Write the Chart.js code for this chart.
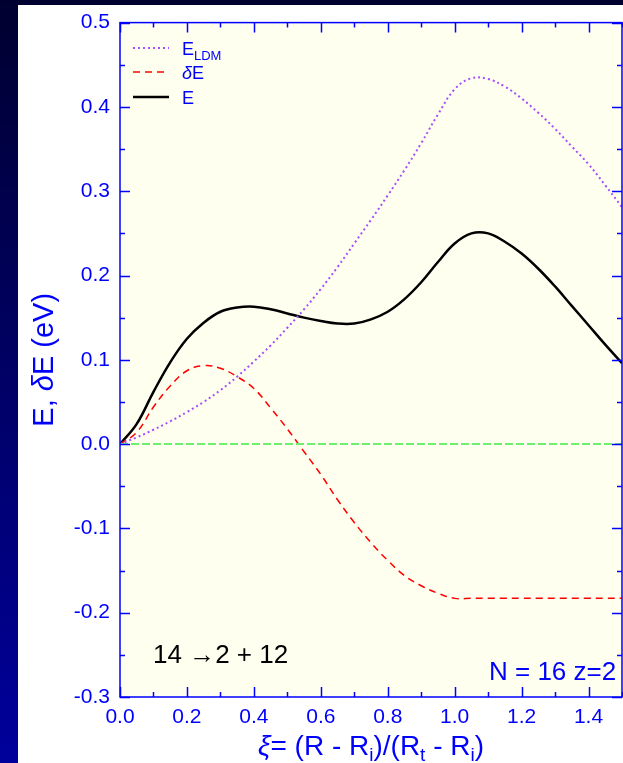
<!DOCTYPE html>
<html lang="en">
<head>
<meta charset="UTF-8">
<title>E, dE vs xi</title>
<style>
html, body { margin: 0; padding: 0; background: #000033; overflow: hidden; }
canvas { display: block; }
</style>
</head>
<body>
<canvas id="chart" width="623" height="763"></canvas>

<script src="https://cdn.jsdelivr.net/npm/chart.js"></script>
<script>
// values
const xi = [0, 0.05, 0.1, 0.15, 0.2, 0.25, 0.3, 0.35, 0.4, 0.45, 0.5, 0.55, 0.6, 0.65, 0.7, 0.75,
            0.8, 0.85, 0.9, 0.95, 1.0, 1.05, 1.1, 1.15, 1.2, 1.25, 1.3, 1.35, 1.4, 1.45, 1.5];
const eLdm = [0, 0.008, 0.017, 0.027, 0.038, 0.050, 0.064, 0.080, 0.098, 0.117, 0.138, 0.160, 0.184, 0.210, 0.238, 0.266,
              0.295, 0.325, 0.357, 0.391, 0.421, 0.434, 0.433, 0.424, 0.410, 0.393, 0.374, 0.353, 0.332, 0.307, 0.281];
const deltaE = [0, 0.014, 0.044, 0.069, 0.087, 0.093, 0.090, 0.080, 0.066, 0.043, 0.018, -0.009, -0.036, -0.066, -0.093, -0.117,
                -0.138, -0.156, -0.168, -0.177, -0.183, -0.183, -0.183, -0.183, -0.183, -0.183, -0.183, -0.183, -0.183, -0.183, -0.183];
const eTotal = [0, 0.024, 0.062, 0.097, 0.125, 0.144, 0.157, 0.162, 0.163, 0.160, 0.155, 0.150, 0.146, 0.143, 0.143, 0.148,
                0.157, 0.172, 0.192, 0.216, 0.238, 0.250, 0.250, 0.240, 0.226, 0.208, 0.187, 0.164, 0.141, 0.118, 0.096];
const zeroX = [0, 1.5];
const zeroY = [0, 0];

const xTicks = [0, 0.2, 0.4, 0.6, 0.8, 1.0, 1.2, 1.4];
const yTicks = [-0.3, -0.2, -0.1, 0.0, 0.1, 0.2, 0.3, 0.4, 0.5];

const BLUE = '#0000ff';
const FONT = '"Liberation Sans", Arial, Helvetica, sans-serif';

function pts(xs, ys) {
    return xs.map((x, i) => ({ x: x, y: ys[i] }));
}

// draws a row of text pieces [text, font, dy]
function drawPieces(ctx, pieces, x, y, align) {
    let total = 0;
    pieces.forEach(p => { ctx.font = p[1]; total += ctx.measureText(p[0]).width; });
    let cx = align === 'center' ? x - total / 2 : x;
    ctx.textAlign = 'left';
    pieces.forEach(p => {
        ctx.font = p[1];
        ctx.fillText(p[0], cx, y + (p[2] || 0));
        cx += ctx.measureText(p[0]).width;
    });
}

function minorsOf(majors, max) {
    const step = majors[1] - majors[0];
    const out = [];
    for (let i = 0; i < majors.length; i++) {
        const m = majors[i] + step / 2;
        if (m <= max + 1e-9) out.push(m);
    }
    return out;
}

const decor = {
    id: 'decor',
    beforeDraw(chart) {
        const { ctx, chartArea: a } = chart;
        ctx.save();
        const g = ctx.createLinearGradient(0, 0, 0, chart.height);
        g.addColorStop(0, '#000030');
        g.addColorStop(1, '#00009c');
        ctx.fillStyle = g;
        ctx.fillRect(0, 0, chart.width, chart.height);
        ctx.fillStyle = '#ffffff';
        ctx.fillRect(18, 5, chart.width - 18, chart.height - 5);
        ctx.fillStyle = '#fffff0';
        ctx.fillRect(a.left, a.top, a.right - a.left, a.bottom - a.top);
        ctx.restore();
    },
    afterDraw(chart) {
        const { ctx, chartArea: a } = chart;
        const xs = chart.scales.x, ys = chart.scales.y;
        ctx.save();
        ctx.strokeStyle = BLUE;
        ctx.lineWidth = 1.5;
        ctx.strokeRect(a.left, a.top, a.right - a.left, a.bottom - a.top);

        ctx.beginPath();
        const tick = (vals, len) => {
            vals.forEach(v => {
                const px = Math.round(xs.getPixelForValue(v)) + 0.5;
                ctx.moveTo(px, a.bottom); ctx.lineTo(px, a.bottom - len);
                ctx.moveTo(px, a.top); ctx.lineTo(px, a.top + len);
            });
        };
        const tickY = (vals, len) => {
            vals.forEach(v => {
                const py = Math.round(ys.getPixelForValue(v)) + 0.5;
                ctx.moveTo(a.left, py); ctx.lineTo(a.left + len, py);
                ctx.moveTo(a.right, py); ctx.lineTo(a.right - len, py);
            });
        };
        tick(xTicks, 10);
        tick(minorsOf(xTicks, 1.5), 5);
        tickY(yTicks, 10);
        tickY(minorsOf(yTicks, 0.5), 5);
        ctx.stroke();

        // legend
        const ds = chart.data.datasets;
        const rows = [
            { d: ds[1], y: 48, pieces: [['E', '18px ' + FONT, 0], ['LDM', '13px ' + FONT, 5]] },
            { d: ds[2], y: 72, pieces: [['\u03b4', 'italic 18px ' + FONT, 0], ['E', '18px ' + FONT, 0]] },
            { d: ds[3], y: 97, pieces: [['E', '18px ' + FONT, 0]] }
        ];
        rows.forEach(r => {
            ctx.beginPath();
            ctx.strokeStyle = r.d.borderColor;
            ctx.lineWidth = r.d.borderWidth;
            ctx.setLineDash(r.d.borderDash || []);
            ctx.moveTo(133, r.y); ctx.lineTo(169, r.y);
            ctx.stroke();
            ctx.setLineDash([]);
            ctx.fillStyle = BLUE;
            ctx.textBaseline = 'alphabetic';
            drawPieces(ctx, r.pieces, 182, r.y + 7, 'left');
        });

        // notes in the plot
        ctx.textBaseline = 'alphabetic';
        ctx.fillStyle = '#000000';
        drawPieces(ctx, [['14 \u21922 + 12', '26px ' + FONT, 0]], 153, 663, 'left');
        ctx.fillStyle = BLUE;
        drawPieces(ctx, [['N = 16 z=2', '26px ' + FONT, 0]], 489, 680, 'left');

        // x title
        const big = '28px ' + FONT, sub = '19px ' + FONT;
        drawPieces(ctx, [
            ['\u03be', 'italic ' + big, 0], ['= (R - R', big, 0], ['i', sub, 6],
            [')/(R', big, 0], ['t', sub, 6], [' - R', big, 0], ['i', sub, 6], [')', big, 0]
        ], (a.left + a.right) / 2, 755, 'center');

        // y title
        ctx.translate(45, (a.top + a.bottom) / 2);
        ctx.rotate(-Math.PI / 2);
        ctx.textBaseline = 'middle';
        const yt = '29px ' + FONT;
        drawPieces(ctx, [['E, ', yt, 0], ['\u03b4', 'italic ' + yt, 0], ['E (eV)', yt, 0]], 0, 0, 'center');
        ctx.restore();
    }
};

const ctx = document.getElementById('chart').getContext('2d');
const chart = new Chart(ctx, {
    type: 'line',
    data: {
        datasets: [
            {
                data: pts(zeroX, zeroY),
                borderColor: '#6ef06e',
                borderWidth: 2,
                borderDash: [8, 3],
                pointRadius: 0
            },
            {
                label: 'E_LDM',
                data: pts(xi, eLdm),
                borderColor: '#a64dff',
                borderWidth: 2,
                borderDash: [2, 3],
                pointRadius: 0,
                tension: 0.4
            },
            {
                label: 'dE',
                data: pts(xi, deltaE),
                borderColor: '#ff0000',
                borderWidth: 1.5,
                borderDash: [7, 5],
                pointRadius: 0,
                tension: 0.4
            },
            {
                label: 'E',
                data: pts(xi, eTotal),
                borderColor: '#000000',
                borderWidth: 2.5,
                pointRadius: 0,
                tension: 0.4
            }
        ]
    },
    options: {
        responsive: false,
        animation: false,
        events: [],
        layout: { padding: { left: 0, right: 1, top: 22, bottom: 0 } },
        plugins: {
            legend: { display: false },
            tooltip: { enabled: false }
        },
        scales: {
            x: {
                type: 'linear',
                min: 0,
                max: 1.5,
                grid: { display: false, drawTicks: false },
                border: { display: false },
                afterBuildTicks: s => { s.ticks = xTicks.map(v => ({ value: v })); },
                afterFit: s => { s.height = 66; },
                ticks: {
                    color: BLUE,
                    padding: 8,
                    maxRotation: 0,
                    font: { family: FONT, size: 21 },
                    callback: v => v.toFixed(1)
                }
            },
            y: {
                min: -0.3,
                max: 0.5,
                grid: { display: false, drawTicks: false },
                border: { display: false },
                afterBuildTicks: s => { s.ticks = yTicks.map(v => ({ value: v })); },
                afterFit: s => { s.width = 120; },
                ticks: {
                    color: BLUE,
                    padding: 10,
                    font: { family: FONT, size: 21 },
                    callback: v => v.toFixed(1)
                }
            }
        }
    },
    plugins: [decor]
});
</script>
</body>
</html>
